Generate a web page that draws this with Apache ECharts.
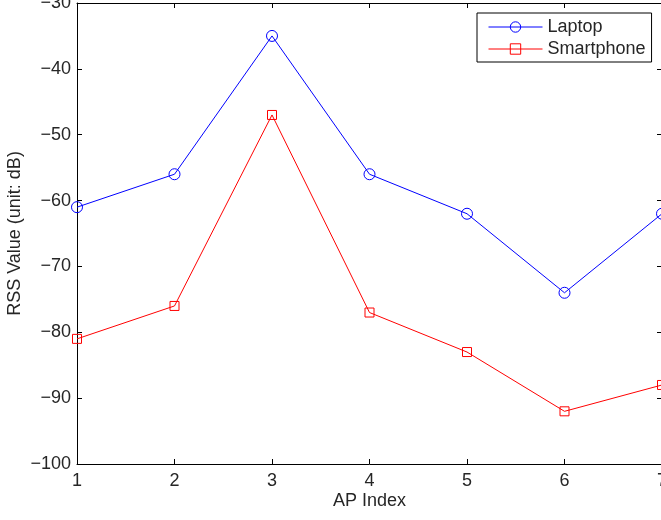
<!DOCTYPE html>
<html>
<head>
<meta charset="utf-8">
<script src="https://cdn.jsdelivr.net/npm/echarts@6/dist/echarts.min.js"></script>
<style>
  html, body { margin: 0; padding: 0; background: #fff; }
  #chart { width: 661px; height: 520px; }
</style>
</head>
<body>
<div id="chart"></div>
<script>
// AP indices along the x axis
const apIndex = [1, 2, 3, 4, 5, 6, 7];
// Received signal strength per access point (dB)
const laptop = [-61, -56, -35, -56, -62, -74, -62];
const smartphone = [-81, -76, -47, -77, -83, -92, -88];
// Axis ranges
const xRange = [1, 7];
const yRange = [-100, -30];

const FONT = 'Liberation Sans, Arial, Helvetica, sans-serif';
const TEXT = '#262626';
const minus = v => String(v).replace('-', '\u2212');

const chart = echarts.init(document.getElementById('chart'), null, { renderer: 'canvas' });

const boxAxis = {
  axisLine: { show: true, lineStyle: { color: '#000', width: 1 } },
  axisTick: { show: true, inside: true, length: 5, lineStyle: { color: '#000', width: 1 } },
  splitLine: { show: false }
};

chart.setOption({
  animation: false,
  backgroundColor: '#fff',
  grid: { left: 77, top: 3, width: 585, height: 461, containLabel: false, outerBoundsMode: 'none' },
  legend: {
    left: 477, top: 13,
    orient: 'vertical',
    backgroundColor: '#fff',
    borderColor: '#000', borderWidth: 1,
    padding: [5, 6, 4, 11],
    itemGap: 4,
    itemWidth: 54, itemHeight: 13,
    lineStyle: { width: 1 },
    itemStyle: { borderWidth: 1 },
    textStyle: { fontFamily: FONT, fontSize: 18, color: TEXT },
    data: ['Laptop', 'Smartphone']
  },
  xAxis: [
    Object.assign({
      type: 'value', min: xRange[0], max: xRange[1], interval: 1,
      name: 'AP Index', nameLocation: 'middle', nameGap: 28, nameMoveOverlap: false,
      nameTextStyle: { fontFamily: FONT, fontSize: 18, color: TEXT },
      axisLabel: { fontFamily: FONT, fontSize: 18, color: TEXT, margin: 8 }
    }, boxAxis),
    Object.assign({
      type: 'value', position: 'top', min: xRange[0], max: xRange[1], interval: 1,
      axisLabel: { show: false }
    }, boxAxis)
  ],
  yAxis: [
    Object.assign({
      type: 'value', min: yRange[0], max: yRange[1], interval: 10,
      name: 'RSS Value (unit: dB)', nameLocation: 'middle', nameGap: 53, nameMoveOverlap: false,
      nameTextStyle: { fontFamily: FONT, fontSize: 18, color: TEXT },
      axisLabel: { fontFamily: FONT, fontSize: 18, color: TEXT, margin: 6, formatter: minus }
    }, boxAxis),
    Object.assign({
      type: 'value', position: 'right', min: yRange[0], max: yRange[1], interval: 10,
      axisLabel: { show: false }
    }, boxAxis)
  ],
  series: [
    {
      name: 'Laptop', type: 'line',
      data: apIndex.map((x, i) => [x, laptop[i]]),
      symbol: 'circle', symbolSize: 11,
      lineStyle: { color: '#0000ff', width: 1 },
      itemStyle: { color: 'transparent', borderColor: '#0000ff', borderWidth: 1 },
      emphasis: { disabled: true }
    },
    {
      name: 'Smartphone', type: 'line',
      data: apIndex.map((x, i) => [x, smartphone[i]]),
      symbol: 'rect', symbolSize: 9,
      lineStyle: { color: '#ff0000', width: 1 },
      itemStyle: { color: 'transparent', borderColor: '#ff0000', borderWidth: 1 },
      emphasis: { disabled: true }
    }
  ]
});
</script>
</body>
</html>
